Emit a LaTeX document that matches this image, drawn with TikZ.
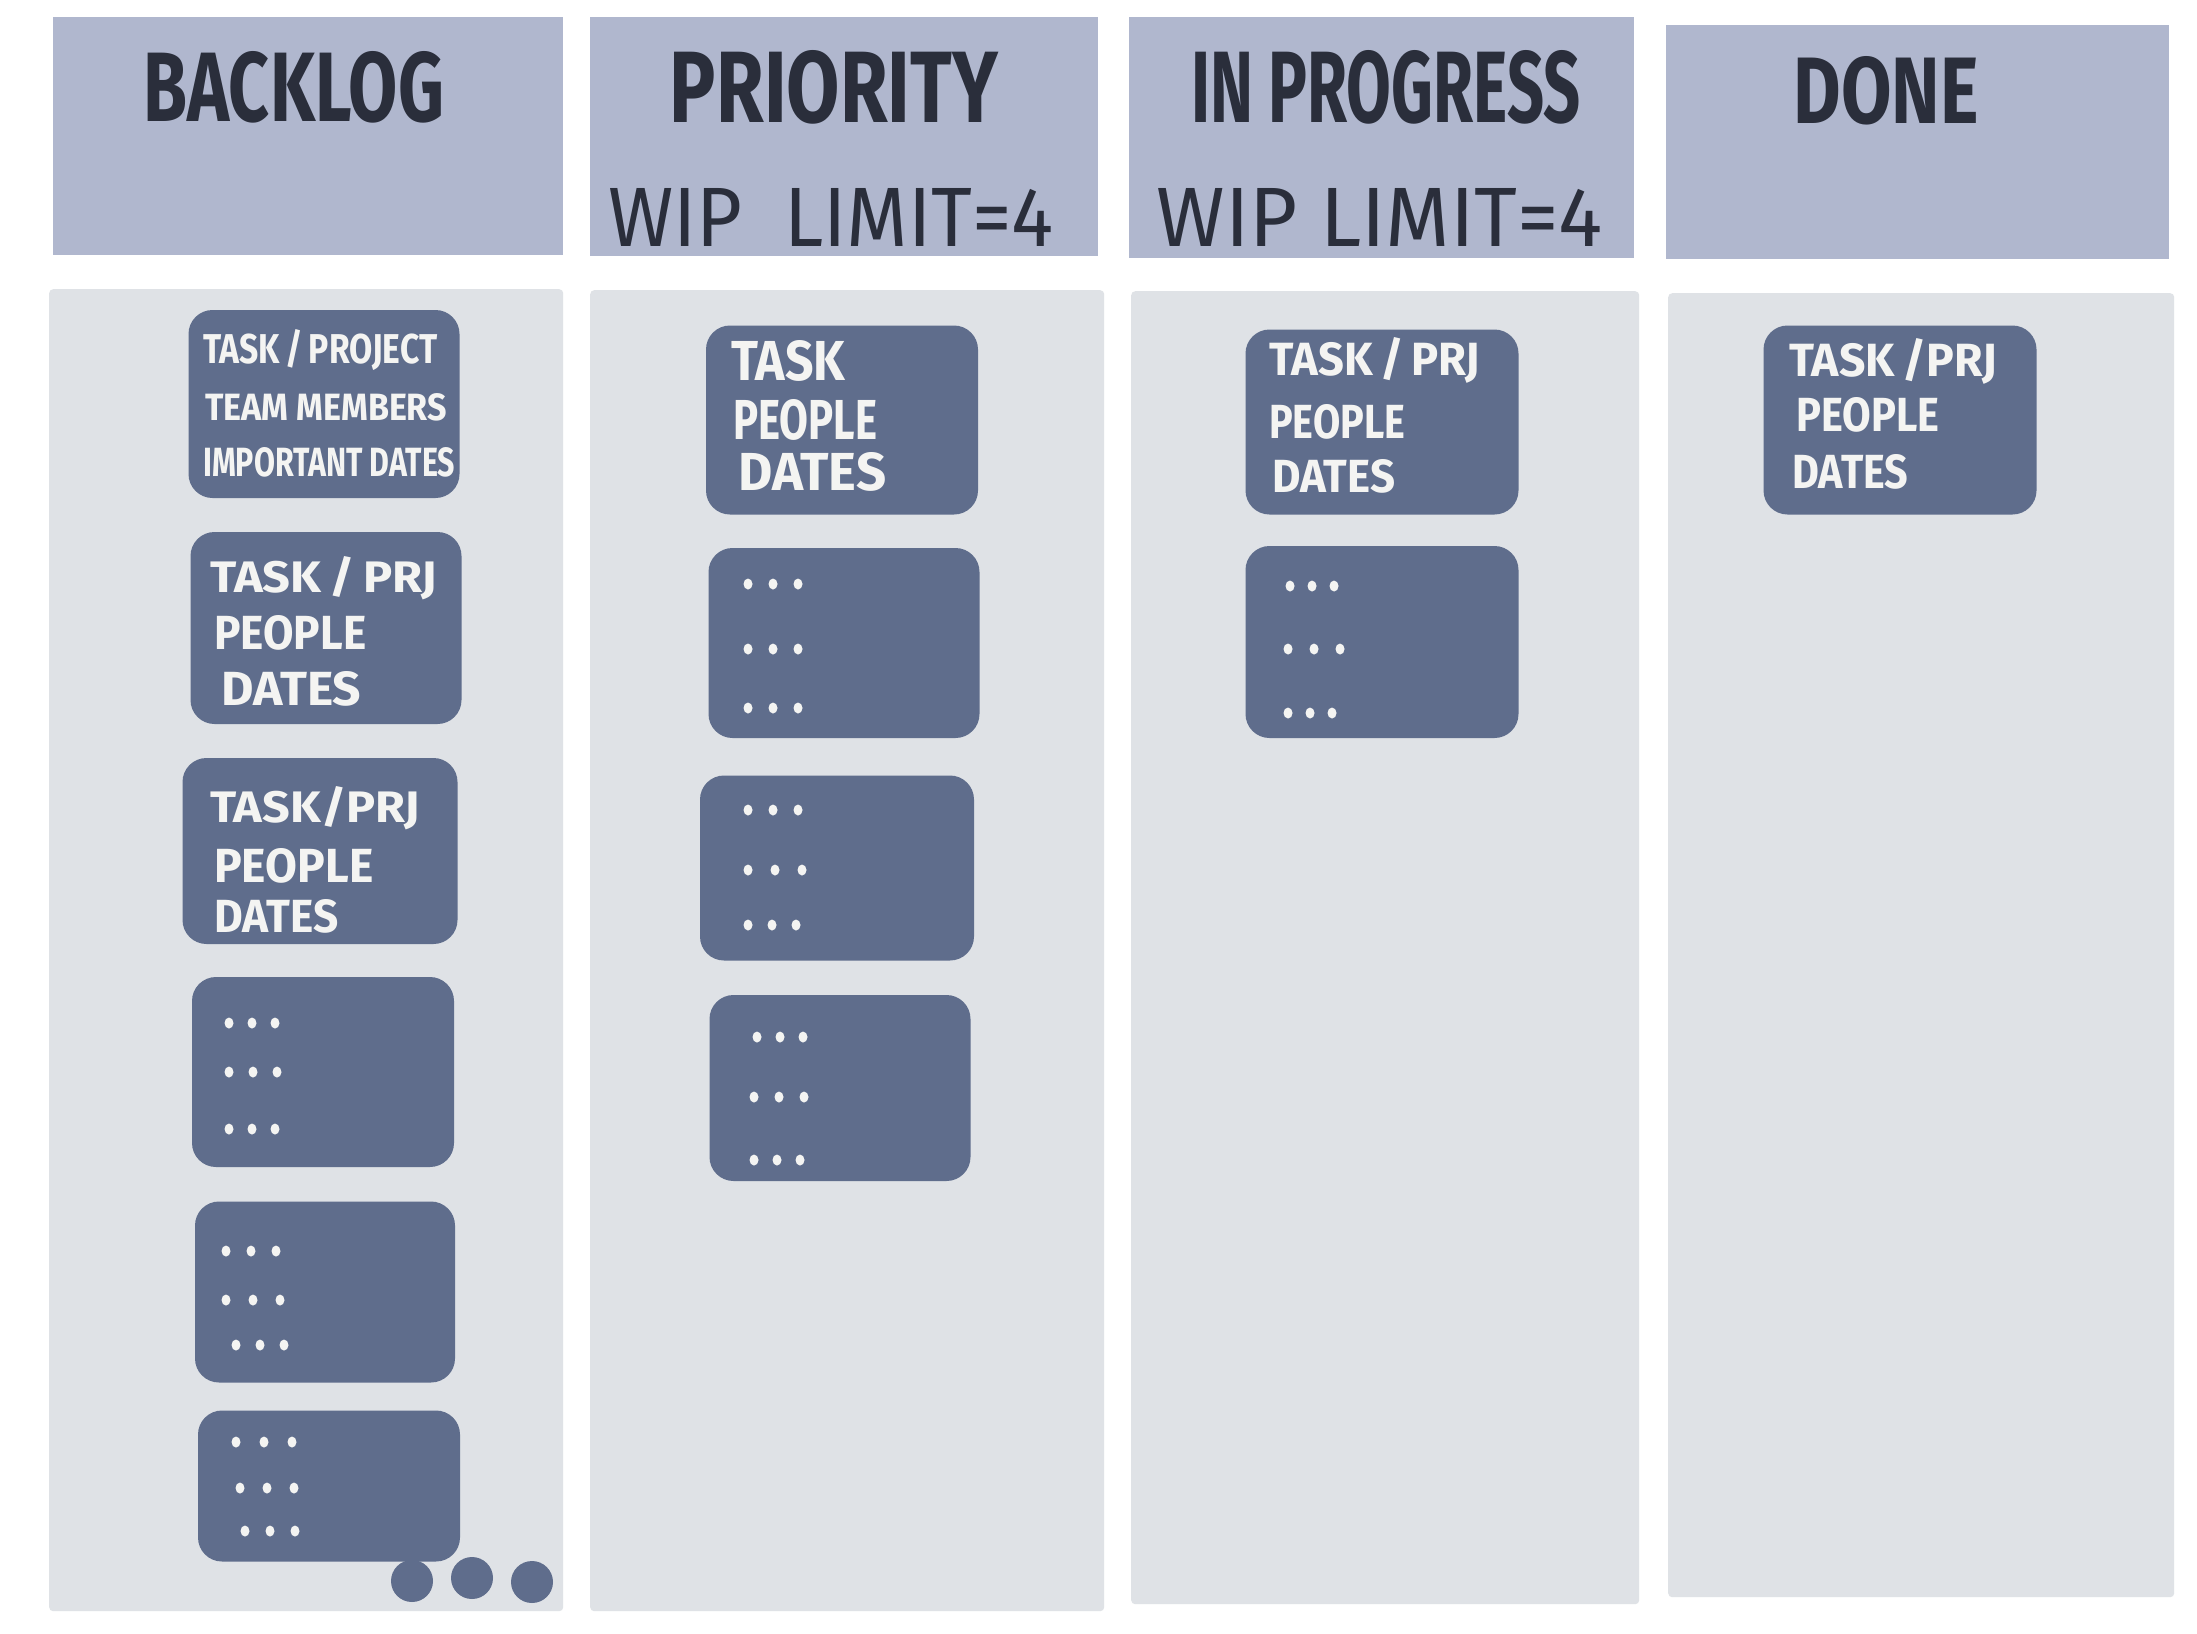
\documentclass[tikz,border=0pt]{standalone}
\usepackage{fontspec}
\setmainfont{Fira Sans}
\definecolor{headc}{HTML}{B0B7CE}
\definecolor{bodyc}{HTML}{DFE2E6}
\definecolor{cardc}{HTML}{5F6D8C}
\definecolor{inkc}{HTML}{2A2E3B}
\definecolor{chalk}{HTML}{F4F4F2}
\newcommand{\fitt}[3]{\resizebox{#1pt}{#2pt}{#3}}
\newcommand{\dotrow}[3]{\foreach \k in {0,1,2} \fill[chalk] (#1+\k*#3,#2) ellipse[x radius=4.5pt,y radius=5.5pt];}
\tikzset{
  headbox/.style={fill=headc, draw=none, inner sep=0, anchor=north west},
  bodybox/.style={fill=bodyc, draw=none, inner sep=0, anchor=north west, rounded corners=4pt},
  card/.style={fill=cardc, draw=none, inner sep=0, rounded corners=24pt},
  title/.style={text=inkc, font=\bfseries, inner sep=0},
  wip/.style={text=inkc, font=\mdseries, inner sep=0},
  cardtext/.style={text=chalk, font=\bfseries, inner sep=0, anchor=west},
}
\begin{document}
\begin{tikzpicture}[x=1pt,y=-1pt]
\useasboundingbox[fill=white] (0,0) rectangle (2197,1633);

% column headers
\node[headbox, minimum width=510, minimum height=238] (hb) at (53,17) {};
\node[headbox, minimum width=508, minimum height=239] (hp) at (590,17) {};
\node[headbox, minimum width=505, minimum height=241] (hi) at (1129,17) {};
\node[headbox, minimum width=503, minimum height=234] (hd) at (1666,25) {};

% column bodies
\node[bodybox, minimum width=514, minimum height=1322] (cb) at (49,289) {};
\node[bodybox, minimum width=514, minimum height=1321] (cp) at (590,290) {};
\node[bodybox, minimum width=508, minimum height=1313] (ci) at (1131,291) {};
\node[bodybox, minimum width=506, minimum height=1304] (cd) at (1668,293) {};

% titles
\node[title] (tb) at (294,87) {\fitt{300}{70}{BACKLOG}};
\node[title] (tp) at (834,87) {\fitt{328}{72}{PRIORITY}};
\node[title] (ti) at (1386,87) {\fitt{389}{72}{IN PROGRESS}};
\node[title] (td) at (1886,91) {\fitt{185}{67}{DONE}};
\node[wip] (wp) at (831,217) {\fitt{446}{58}{WIP\ \ LIMIT=4}};
\node[wip] (wi) at (1380,217) {\fitt{446}{58}{WIP\ LIMIT=4}};

% backlog cards
\node[card, minimum width=271, minimum height=188] (b1) at (324,404) {};
\node[card, minimum width=271, minimum height=192] (b2) at (326,628) {};
\node[card, minimum width=275, minimum height=186] (b3) at (320,851) {};
\node[card, minimum width=262, minimum height=190] (b4) at (323,1072) {};
\node[card, minimum width=260, minimum height=181] (b5) at (325,1292) {};
\node[card, minimum width=262, minimum height=151] (b6) at (329,1486) {};

\node[cardtext] (b1a) at (203,350) {\fitt{234}{34}{TASK\,/\,PROJECT}};
\node[cardtext] (b1b) at (205,407) {\fitt{242}{27}{TEAM MEMBERS}};
\node[cardtext] (b1c) at (203,462) {\fitt{252}{29}{IMPORTANT DATES}};

\node[cardtext] (b2a) at (210,578) {\fitt{227}{36}{TASK\,/\,PRJ}};
\node[cardtext] (b2b) at (214,633) {\fitt{152}{34}{PEOPLE}};
\node[cardtext] (b2c) at (221,689) {\fitt{140}{34}{DATES}};

\node[cardtext] (b3a) at (210,808) {\fitt{210}{36}{TASK/PRJ}};
\node[cardtext] (b3b) at (214,866) {\fitt{159}{34}{PEOPLE}};
\node[cardtext] (b3c) at (214,916) {\fitt{124}{33}{DATES}};

\dotrow{229}{1023}{23}
\dotrow{229}{1072}{24}
\dotrow{229}{1129}{23}
\dotrow{226}{1251}{25}
\dotrow{226}{1300}{27}
\dotrow{236}{1345}{24}
\dotrow{236}{1442}{28}
\dotrow{240}{1488}{27}
\dotrow{245}{1531}{25}

\fill[cardc] (412,1581) circle[radius=21pt];
\fill[cardc] (472,1578) circle[radius=21pt];
\fill[cardc] (532,1582) circle[radius=21pt];

% priority cards
\node[card, minimum width=272, minimum height=189] (p1) at (842,420) {};
\node[card, minimum width=271, minimum height=190] (p2) at (844,643) {};
\node[card, minimum width=274, minimum height=185] (p3) at (837,868) {};
\node[card, minimum width=261, minimum height=186] (p4) at (840,1088) {};

\node[cardtext] (p1a) at (731,361) {\fitt{114}{40}{TASK}};
\node[cardtext] (p1b) at (733,420) {\fitt{144}{40}{PEOPLE}};
\node[cardtext] (p1c) at (738,472) {\fitt{148}{38}{DATES}};

\dotrow{748}{584}{25}
\dotrow{748}{649}{25}
\dotrow{748}{708}{25}
\dotrow{748}{810}{25}
\dotrow{748}{870}{27}
\dotrow{748}{925}{24}
\dotrow{757}{1037}{23}
\dotrow{754}{1097}{25}
\dotrow{754}{1160}{23}

% in progress cards
\node[card, minimum width=273, minimum height=185] (i1) at (1382,422) {};
\node[card, minimum width=273, minimum height=192] (i2) at (1382,642) {};

\node[cardtext] (i1a) at (1269,360) {\fitt{211}{38}{TASK\,/\,PRJ}};
\node[cardtext] (i1b) at (1269,422) {\fitt{136}{34}{PEOPLE}};
\node[cardtext] (i1c) at (1272,476) {\fitt{123}{33}{DATES}};

\dotrow{1290}{586}{22}
\dotrow{1288}{649}{26}
\dotrow{1288}{713}{22}

% done cards
\node[card, minimum width=273, minimum height=189] (d1) at (1900,420) {};

\node[cardtext] (d1a) at (1789,361) {\fitt{208}{38}{TASK\,/PRJ}};
\node[cardtext] (d1b) at (1796,415) {\fitt{143}{34}{PEOPLE}};
\node[cardtext] (d1c) at (1792,472) {\fitt{116}{34}{DATES}};

\end{tikzpicture}
\end{document}
